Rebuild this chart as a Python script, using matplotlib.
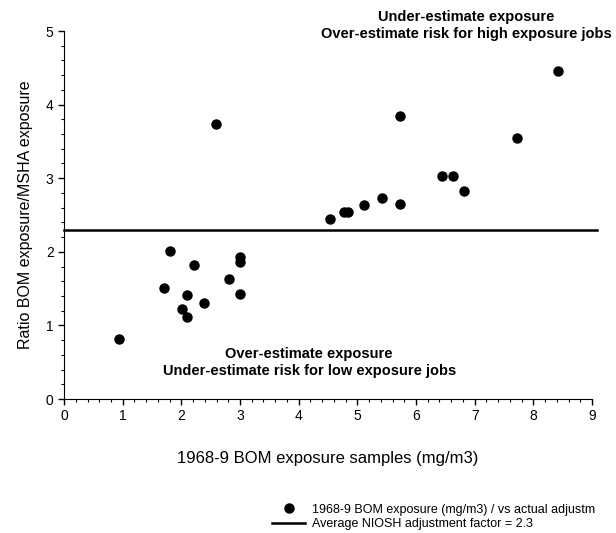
import numpy as np
import matplotlib.pyplot as plt
from matplotlib.ticker import MultipleLocator

plt.rcParams['font.family'] = ['Liberation Sans', 'DejaVu Sans']

# -------------------- Data --------------------
bom_exposure = [0.93, 1.70, 1.81, 2.01, 2.10, 2.10, 2.21, 2.39, 2.59, 2.81,
                3.00, 3.00, 3.00, 4.53, 4.77, 4.84, 5.12, 5.42, 5.72, 5.72,
                6.45, 6.63, 6.81, 7.73, 8.42]
ratio = [0.82, 1.51, 2.01, 1.22, 1.41, 1.11, 1.82, 1.31, 3.74, 1.63,
         1.93, 1.86, 1.42, 2.45, 2.54, 2.54, 2.63, 2.73, 3.84, 2.65,
         3.03, 3.03, 2.83, 3.54, 4.45]
niosh_factor = 2.3

# -------------------- Plot --------------------
fig = plt.figure(figsize=(6.16, 5.33), dpi=100)
ax = fig.add_axes([0.104, 0.2514, 0.857, 0.6904])

pts, = ax.plot(bom_exposure, ratio, 'o', color='black', markersize=6.5,
               label='1968-9 BOM exposure (mg/m3) / vs actual adjustm')
avg = ax.axhline(niosh_factor, xmin=0, xmax=1.01, color='black', lw=1.8,
                 clip_on=False, label='Average NIOSH adjustment factor = 2.3')

ax.set_xlim(0, 9)
ax.set_ylim(0, 5)
ax.xaxis.set_major_locator(MultipleLocator(1))
ax.xaxis.set_minor_locator(MultipleLocator(0.2))
ax.yaxis.set_major_locator(MultipleLocator(1))
ax.yaxis.set_minor_locator(MultipleLocator(0.2))
ax.tick_params(which='major', length=4, width=1, labelsize=10)
ax.tick_params(which='minor', length=2, width=0.8)
ax.spines['top'].set_visible(False)
ax.spines['right'].set_visible(False)

ax.set_xlabel('1968-9 BOM exposure samples (mg/m3)', fontsize=12, labelpad=20)
ax.set_ylabel('Ratio BOM exposure/MSHA exposure', fontsize=11.5, labelpad=9)

ax.text(6.86, 5.07, 'Under-estimate exposure\nOver-estimate risk for high exposure jobs',
        ha='center', va='center', fontsize=10.5, fontweight='bold', linespacing=1.25)
ax.text(4.18, 0.50, 'Over-estimate exposure\nUnder-estimate risk for low exposure jobs',
        ha='center', va='center', fontsize=10.5, fontweight='bold', linespacing=1.25)

fig.legend(handles=[pts, avg], loc='center right', bbox_to_anchor=(0.985, 0.03),
           frameon=False, fontsize=9, handlelength=2.6, labelspacing=0.2,
           handletextpad=0.6)

fig.savefig('out.png', dpi=100)
